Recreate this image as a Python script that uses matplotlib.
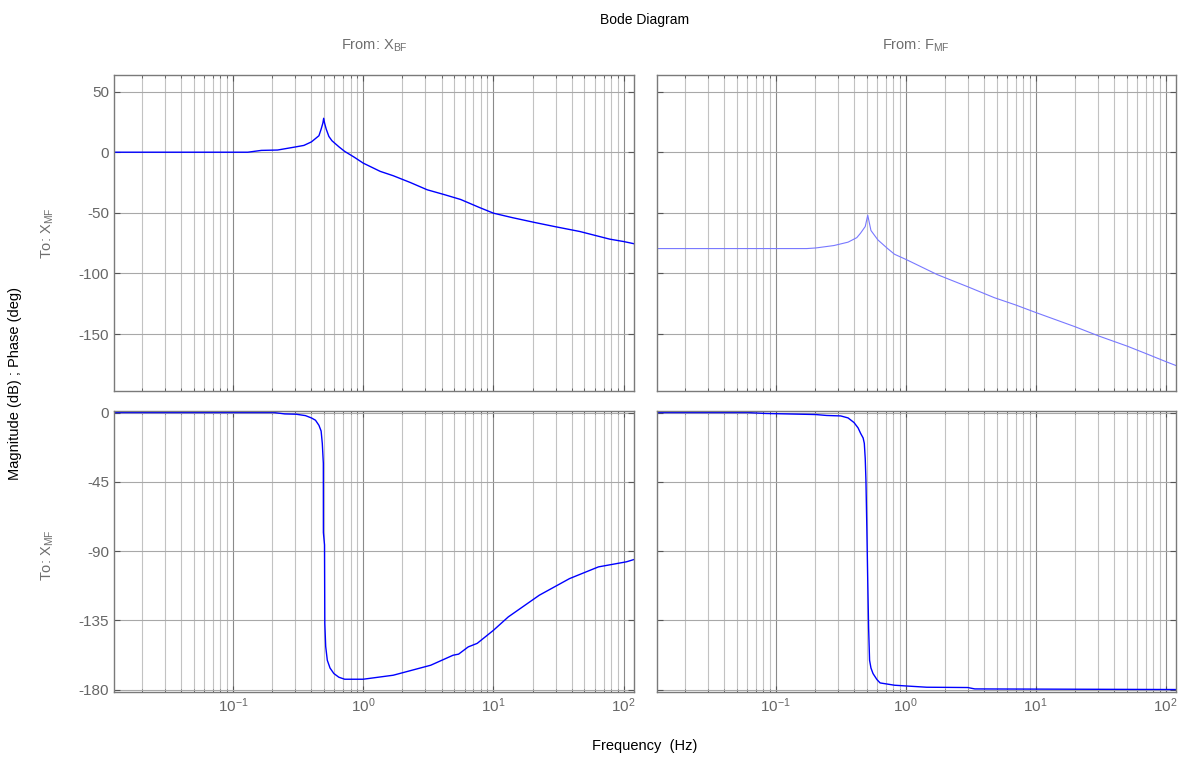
import numpy as np
import matplotlib
matplotlib.use('Agg')
import matplotlib.pyplot as plt
from matplotlib.ticker import LogLocator, NullFormatter, FixedLocator

plt.rcParams['font.family'] = ['Liberation Sans', 'DejaVu Sans']
plt.rcParams['mathtext.fontset'] = 'custom'
plt.rcParams['mathtext.rm'] = 'Liberation Sans'
plt.rcParams['mathtext.it'] = 'Liberation Sans'
plt.rcParams['axes.unicode_minus'] = False

# From X_BF, magnitude (dB)
f_mag_bf = [0.0122, 0.05, 0.13, 0.165, 0.22, 0.3, 0.35, 0.40, 0.457, 0.475, 0.49, 0.497,
            0.505, 0.52, 0.545, 0.575, 0.65, 0.72, 0.85, 1.0, 1.35, 1.7, 2.3, 3.1, 4.2, 5.6, 7.8,
            10, 14, 20.8, 30, 46, 78, 100, 120]
mag_bf = [0, 0, 0, 1.5, 1.8, 4.3, 5.6, 8.5, 13.6, 19, 24, 28,
          24, 19, 13, 9.5, 4.5, 0.7, -4, -9, -15.8, -19.4, -25, -31, -35, -39, -45.6,
          -50.3, -54, -58, -61.5, -65.4, -71.7, -73.7, -75.5]

# From F_MF, magnitude (dB)
f_mag_fmf = [0.0122, 0.173, 0.203, 0.28, 0.36, 0.42, 0.449, 0.488, 0.51, 0.54, 0.61, 0.72,
             0.82, 1.02, 1.75, 3.0, 4.8, 7, 10.1, 20.1, 30.5, 50.6, 70, 101, 120]
mag_fmf = [-79.5, -79.5, -79, -77, -74.2, -70.5, -66.8, -61.3, -52, -64.6, -72.3, -79.2,
           -84.2, -88.8, -101, -111, -120, -126, -132.4, -144, -151.6, -160, -166, -172.9, -176]

# From X_BF, phase (deg)
f_ph_bf = [0.0122, 0.207, 0.25, 0.306, 0.36, 0.40, 0.43, 0.457, 0.475, 0.485, 0.494, 0.4945,
           0.5045, 0.507, 0.515, 0.53, 0.556, 0.595, 0.65, 0.72, 1.0, 1.7, 3.3, 4.9, 5.4, 6.4, 7.5, 10,
           13, 22.5, 38.4, 64, 105, 120]
ph_bf = [0, 0, -0.9, -1.1, -2, -3.5, -5, -8.3, -12, -20, -33, -78,
         -86, -137, -152, -161, -166, -169.6, -172, -173.3, -173.3, -170.7, -164.2, -157.7, -157, -152.3, -150, -141.5,
         -132.8, -118.7, -107.9, -100.3, -97, -95.5]

# From F_MF, phase (deg)
f_ph_fmf = [0.0122, 0.061, 0.084, 0.203, 0.246, 0.316, 0.36, 0.40, 0.43, 0.45, 0.47, 0.48, 0.488,
            0.494, 0.502, 0.51, 0.518, 0.527, 0.54, 0.56, 0.6, 0.635, 0.82, 1.06, 1.45, 3.0, 3.4, 120]
ph_fmf = [0, 0, -0.6, -1.3, -1.9, -2.2, -3.5, -6.5, -10, -13.6, -16.5, -20, -30,
          -44, -75, -109, -140, -161, -166, -169.6, -173.5, -175.7, -177.2, -177.8, -178.5, -178.7, -179.6, -180]

mag_ticks = [-150, -100, -50, 0, 50]
ph_ticks = [-180, -135, -90, -45, 0]

W, H = 1181, 758
fig = plt.figure(figsize=(W / 100, H / 100), dpi=100)

def px_axes(x0, y0, x1, y1):
    return fig.add_axes([x0 / W, 1 - y1 / H, (x1 - x0) / W, (y1 - y0) / H])

def style(ax, yticks, ylim, show_x, show_y):
    ax.set_xscale('log')
    ax.set_xlim(0.0122, 120)
    ax.set_ylim(*ylim)
    ax.xaxis.set_major_locator(LogLocator(base=10, numticks=10))
    ax.xaxis.set_minor_locator(LogLocator(base=10, subs=range(2, 10), numticks=20))
    ax.xaxis.set_minor_formatter(NullFormatter())
    ax.yaxis.set_major_locator(FixedLocator(yticks))
    ax.grid(True, which='major', axis='x', color='#8a8a8a', lw=0.8)
    ax.grid(True, which='minor', axis='x', color='#c2c2c2', lw=0.8)
    ax.grid(True, which='major', axis='y', color='#a8a8a8', lw=0.8)
    ax.set_axisbelow(True)
    ax.tick_params(which='both', direction='in', top=True, right=True,
                   color='#555555', labelcolor='#666666', labelsize=11)
    ax.tick_params(which='major', length=4)
    ax.tick_params(which='minor', length=2.5)
    for s in ax.spines.values():
        s.set_color('#7a7a7a')
        s.set_linewidth(1.0)
    if not show_x:
        ax.tick_params(labelbottom=False)
    if not show_y:
        ax.tick_params(labelleft=False)

mag_lim = (-197, 63.7)
ph_lim = (-181.6, 1.0)

ax_tl = px_axes(114, 75, 634, 391)
ax_tr = px_axes(657, 75, 1176, 391)
ax_bl = px_axes(114, 411, 634, 692)
ax_br = px_axes(657, 411, 1176, 692)

style(ax_tl, mag_ticks, mag_lim, False, True)
style(ax_tr, mag_ticks, mag_lim, False, False)
style(ax_bl, ph_ticks, ph_lim, True, True)
style(ax_br, ph_ticks, ph_lim, True, False)

ax_tl.plot(f_mag_bf, mag_bf, color='#0000ff', lw=1.0)
ax_tr.plot(f_mag_fmf, mag_fmf, color='#7878ff', lw=0.8)
ax_bl.plot(f_ph_bf, ph_bf, color='#0000ff', lw=1.0)
ax_br.plot(f_ph_fmf, ph_fmf, color='#0000ff', lw=1.0)

fig.text(645 / W, 1 - 20 / H, 'Bode Diagram', ha='center', va='center', fontsize=10, color='black')
fig.text(374 / W, 1 - 46 / H, r'From: $\mathrm{X_{BF}}$', ha='center', va='center',
         fontsize=10.5, color='#6e6e6e')
fig.text(916 / W, 1 - 46 / H, r'From: $\mathrm{F_{MF}}$', ha='center', va='center',
         fontsize=10.5, color='#6e6e6e')
fig.text(48 / W, 1 - 233 / H, r'To: $\mathrm{X_{MF}}$', ha='center', va='center',
         rotation=90, fontsize=10.5, color='#6e6e6e')
fig.text(48 / W, 1 - 555 / H, r'To: $\mathrm{X_{MF}}$', ha='center', va='center',
         rotation=90, fontsize=10.5, color='#6e6e6e')
fig.text(15 / W, 1 - 383 / H, 'Magnitude (dB) ; Phase (deg)', ha='center', va='center',
         rotation=90, fontsize=10.5, color='black')
fig.text(645 / W, 1 - 746 / H, 'Frequency  (Hz)', ha='center', va='center',
         fontsize=10.5, color='black')

fig.savefig('out.png', dpi=100)
